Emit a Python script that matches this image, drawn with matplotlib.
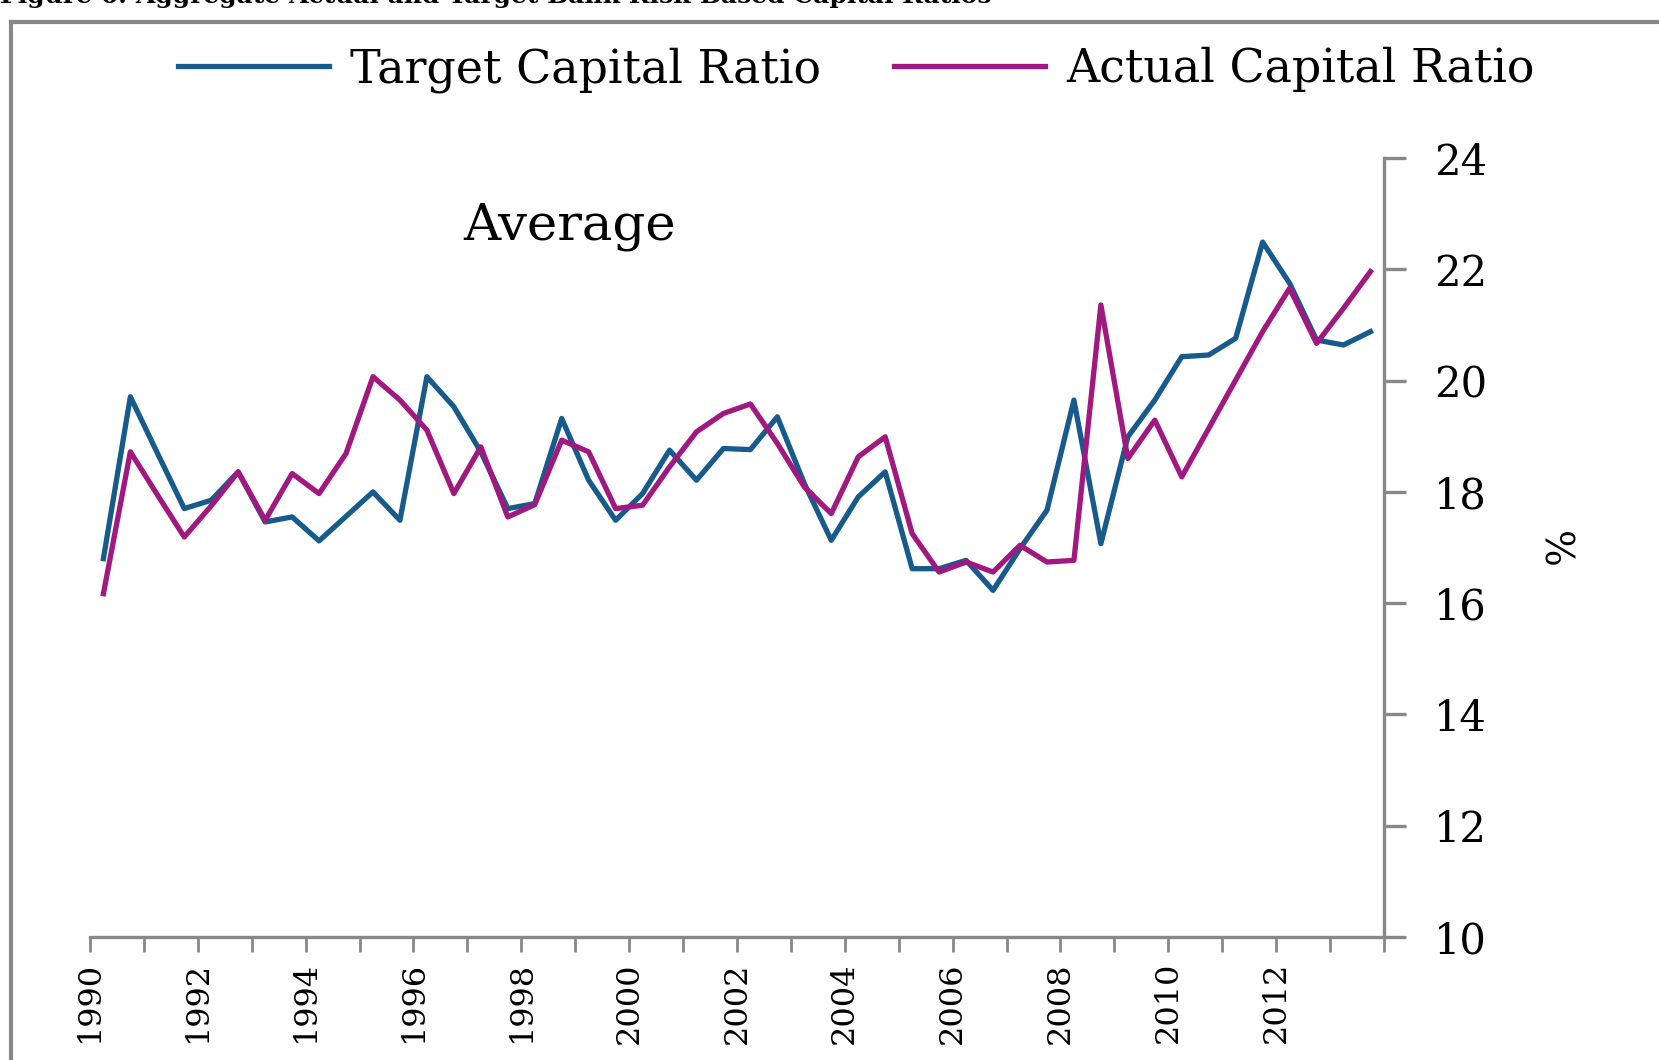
import numpy as np
import matplotlib
matplotlib.use('Agg')
import matplotlib.pyplot as plt
from matplotlib.lines import Line2D

### data ##########

# half-year observations, 1990H1 .. 2013H2
years = np.repeat(np.arange(1990, 2014), 2)
halves = np.tile([1, 2], 24)
period = years + (halves - 0.5) / 2

target = [16.80, 19.71, 18.70, 17.70, 17.85, 18.36, 17.46, 17.55, 17.12, 17.56,
          18.00, 17.49, 20.07, 19.53, 18.72, 17.70, 17.79, 19.32, 18.21, 17.49,
          17.97, 18.75, 18.21, 18.78, 18.76, 19.35, 18.15, 17.13, 17.91, 18.36,
          16.62, 16.62, 16.77, 16.23, 16.98, 17.67, 19.65, 17.07, 18.99, 19.65,
          20.43, 20.46, 20.76, 22.49, 21.75, 20.73, 20.64, 20.88]
actual = [16.17, 18.72, 17.95, 17.19, 17.75, 18.36, 17.49, 18.33, 17.97, 18.69,
          20.07, 19.65, 19.11, 17.97, 18.81, 17.55, 17.77, 18.93, 18.72, 17.70,
          17.76, 18.45, 19.08, 19.41, 19.58, 18.87, 18.09, 17.61, 18.63, 18.99,
          17.25, 16.56, 16.74, 16.56, 17.04, 16.74, 16.77, 21.36, 18.60, 19.29,
          18.27, 19.14, 20.01, 20.88, 21.66, 20.67, 21.30, 21.96]

xticks = list(range(1990, 2015))
xlabels = [str(y) if (y % 2 == 0 and y <= 2012) else '' for y in xticks]
yticks = [10, 12, 14, 16, 18, 20, 22, 24]

####################

blue = '#175a8c'
magenta = '#a01880'
gray = '#888888'
font = 'DejaVu Serif'

fig = plt.figure(figsize=(16.59, 10.60), dpi=100)
ax = fig.add_axes([0.0542, 0.1160, 0.7800, 0.7349])

l1, = ax.plot(period, target, color=blue, lw=3.8, label='Target Capital Ratio')
l2, = ax.plot(period, actual, color=magenta, lw=3.8, label='Actual Capital Ratio')

ax.set_xlim(1990, 2014)
ax.set_ylim(10, 24)

### axes look
for s in ['top', 'left']:
    ax.spines[s].set_visible(False)
for s in ['bottom', 'right']:
    ax.spines[s].set_color(gray)
    ax.spines[s].set_linewidth(2.4)

ax.yaxis.tick_right()
ax.set_yticks(yticks)
ax.set_yticklabels([str(v) for v in yticks], fontfamily=font, fontsize=30)
ax.tick_params(axis='y', direction='out', length=16, width=2.4, color=gray, pad=20)

ax.set_xticks(xticks)
ax.set_xticklabels(xlabels, rotation=90, fontfamily=font, fontsize=23)
ax.tick_params(axis='x', direction='out', length=11, width=2.0, color=gray, pad=7)

### texts
fig.text(0.3436, 0.787, 'Average', fontfamily=font, fontsize=37, ha='center', va='center')
fig.text(0.936, 0.482, '%', fontfamily=font, fontsize=28, rotation=-90, ha='center', va='center')
fig.text(0.0, 0.9975, 'Figure 6: Aggregate Actual and Target Bank Risk-Based Capital Ratios',
         fontfamily=font, fontsize=18, fontweight='bold', ha='left', va='baseline')

### legend
fig.legend(handles=[l1, l2], loc='center', bbox_to_anchor=(0.516, 0.934), ncol=2,
           frameon=False, prop={'family': font, 'size': 33},
           handlelength=3.3, handletextpad=0.45, columnspacing=1.6)

### frame around the chart
fig.add_artist(Line2D([0.0066, 0.0066], [0.0, 0.979], transform=fig.transFigure, color=gray, lw=3))
fig.add_artist(Line2D([0.0066, 1.0], [0.979, 0.979], transform=fig.transFigure, color=gray, lw=3))

fig.savefig('out.png', dpi=100)
